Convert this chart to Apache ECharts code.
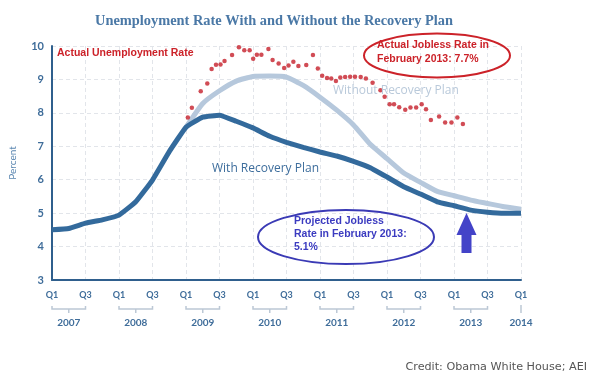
<!DOCTYPE html>
<html>
<head>
<meta charset="utf-8">
<script src="https://cdn.jsdelivr.net/npm/echarts@6/dist/echarts.min.js"></script>
<style>html,body{margin:0;padding:0;background:#fff}#c{width:600px;height:382px}</style>
</head>
<body>
<div id="c"></div>
<script>
// Quarter index: 0 = 2007 Q1 ... 28 = 2014 Q1
const quarterIdx = [0,1,2,3,4,5,6,7,8,9,10,11,12,13,14,15,16,17,18,19,20,21,22,23,24,25,26,27,28];
const withPlan = [4.50,4.54,4.70,4.80,4.94,5.34,5.99,6.84,7.57,7.87,7.93,7.75,7.55,7.30,7.12,6.97,6.83,6.71,6.55,6.36,6.08,5.79,5.57,5.34,5.22,5.09,5.03,5.00,5.00];
const withoutPlan = [null,null,null,null,null,null,null,null,7.57,8.28,8.66,8.95,9.09,9.10,9.07,8.82,8.47,8.08,7.64,7.06,6.63,6.20,5.92,5.65,5.52,5.39,5.29,5.19,5.12];
// Actual monthly unemployment (position in quarters, rate)
const actualPos = [8.11,8.35,8.88,9.27,9.53,9.79,10.06,10.30,10.75,11.16,11.48,11.80,12.01,12.23,12.50,12.92,13.17,13.53,13.86,14.12,14.41,14.71,15.18,15.58,15.87,16.13,16.42,16.67,16.95,17.21,17.50,17.80,18.09,18.43,18.74,19.14,19.61,19.86,20.16,20.42,20.73,21.09,21.40,21.74,22.07,22.33,22.62,23.11,23.47,23.85,24.20,24.53];
const actualRate = [7.86,8.15,8.65,8.88,9.31,9.44,9.45,9.55,9.73,9.96,9.87,9.87,9.62,9.74,9.74,9.91,9.58,9.48,9.34,9.42,9.53,9.40,9.43,9.73,9.33,9.11,9.04,9.03,8.95,9.06,9.07,9.08,9.08,9.07,9.03,8.90,8.68,8.48,8.26,8.26,8.17,8.09,8.16,8.16,8.26,8.11,7.79,7.89,7.71,7.71,7.86,7.67];
const years = ['2007','2008','2009','2010','2011','2012','2013','2014'];
const yTicks = [3,4,5,6,7,8,9,10];

const axisColor = '#2f5f8d';
const labelColor = '#3f6d9a';

const chart = echarts.init(document.getElementById('c'), null, {renderer:'canvas'});
chart.setOption({
  animation:false,
  backgroundColor:'#fff',
  title:{
    text:'Unemployment Rate With and Without the Recovery Plan',
    left:90, top:9,
    textStyle:{fontFamily:'Liberation Serif', fontWeight:'bold', fontSize:14.4, color:'#4a78a6'}
  },
  grid:{left:47, right:79, top:46, bottom:102, containLabel:false},
  xAxis:{
    type:'value', min:0, max:28, interval:2,
    axisLine:{show:true, lineStyle:{color:axisColor, width:2}},
    axisTick:{show:false},
    splitLine:{show:true, lineStyle:{color:'#e2e5ea', type:[4,3], width:1}},
    axisLabel:{
      margin:11, color:labelColor, fontFamily:'Lato', fontWeight:'bold', fontSize:9,
      formatter:function(v){return (v%4===0)?'Q1':'Q3';}
    }
  },
  yAxis:{
    type:'value', min:yTicks[0], max:yTicks[yTicks.length-1], interval:1,
    name:'Percent', nameLocation:'middle', nameGap:34,
    nameTextStyle:{color:'#5b87b1', fontFamily:'Lato', fontSize:10},
    axisLine:{show:true, lineStyle:{color:axisColor, width:2}},
    axisTick:{show:false},
    splitLine:{show:true, lineStyle:{color:'#e2e5ea', type:[4,3], width:1}},
    axisLabel:{margin:8, color:labelColor, fontFamily:'Lato', fontWeight:'bold', fontSize:11}
  },
  series:[
    {
      type:'line', name:'Without Recovery Plan',
      data:quarterIdx.map((q,i)=>[q, withoutPlan[i]]),
      showSymbol:false, symbol:'none', smooth:0.15, connectNulls:false,
      lineStyle:{color:'#b6c8dc', width:5}, z:2
    },
    {
      type:'line', name:'With Recovery Plan',
      data:quarterIdx.map((q,i)=>[q, withPlan[i]]),
      showSymbol:false, symbol:'none', smooth:0.1,
      lineStyle:{color:'#336a9c', width:5}, z:3
    },
    {
      type:'scatter', name:'Actual Unemployment Rate',
      data:actualPos.map((p,i)=>[p, actualRate[i]]),
      symbolSize:4.5, itemStyle:{color:'#c51f2b'}, z:4
    },
    {
      type:'custom', clip:false, silent:true,
      data:years.map((y,i)=>[i]),
      renderItem:function(params, api){
        const i = api.value(0);
        const q0 = i*4;
        const a = api.coord([q0, 3]);
        const y0 = a[1];
        const col = '#bcc8d5';
        const children = [];
        let cx;
        if (q0 + 2 <= 28) {
          const b = api.coord([q0+2, 3]);
          cx = (a[0]+b[0])/2;
          const yb = y0 + 29;
          children.push({type:'polyline', shape:{points:[[a[0],yb-3],[a[0],yb],[b[0],yb],[b[0],yb-3]]}, style:{stroke:col, lineWidth:1.5, fill:null}});
          children.push({type:'line', shape:{x1:cx,y1:yb,x2:cx,y2:yb+4}, style:{stroke:col, lineWidth:1.5}});
        } else {
          cx = a[0];
          children.push({type:'line', shape:{x1:cx,y1:y0+25,x2:cx,y2:y0+33}, style:{stroke:col, lineWidth:1.5}});
        }
        children.push({type:'text', style:{text:years[i], x:cx, y:y0+43, textAlign:'center', textVerticalAlign:'middle', fill:labelColor, font:'bold 10px Lato'}});
        return {type:'group', children:children};
      },
      z:5
    }
  ],
  graphic:[
    {type:'text', z:100, left:57, top:48, style:{text:'Actual Unemployment Rate', fill:'#cc2229', font:'bold 10.5px "Liberation Sans"'}},
    {type:'ellipse', z:100, shape:{cx:437, cy:55.5, rx:73, ry:22}, style:{stroke:'#cc2229', lineWidth:2, fill:null}},
    {type:'text', z:100, left:377, top:38, style:{text:'Actual Jobless Rate in\nFebruary 2013: 7.7%', fill:'#cc2229', font:'bold 10.5px "Liberation Sans"', lineHeight:14}},
    {type:'ellipse', z:100, shape:{cx:346, cy:237, rx:88, ry:27}, style:{stroke:'#3a3ab5', lineWidth:2, fill:null}},
    {type:'text', z:100, left:294, top:215, style:{text:'Projected Jobless\nRate in February 2013:\n5.1%', fill:'#3b3bc0', font:'bold 10.5px "Liberation Sans"', lineHeight:12.8}},
    {type:'polygon', z:100, shape:{points:[[466.5,213],[456.5,235],[461.5,235],[461.5,253],[471.5,253],[471.5,235],[476.5,235]]}, style:{fill:'#4343c8'}},
    {type:'text', z:100, left:212, top:163, style:{text:'With Recovery Plan', fill:'#3d6d9c', font:'12px "Open Sans"'}},
    {type:'text', z:100, left:333, top:85, style:{text:'Without Recovery Plan', fill:'#b9c9da', font:'12px "Open Sans"'}},
    {type:'text', z:100, right:13, top:362, style:{text:'Credit: Obama White House; AEI', fill:'#555', font:'11.2px "DejaVu Sans"'}}
  ]
});
</script>
</body>
</html>
